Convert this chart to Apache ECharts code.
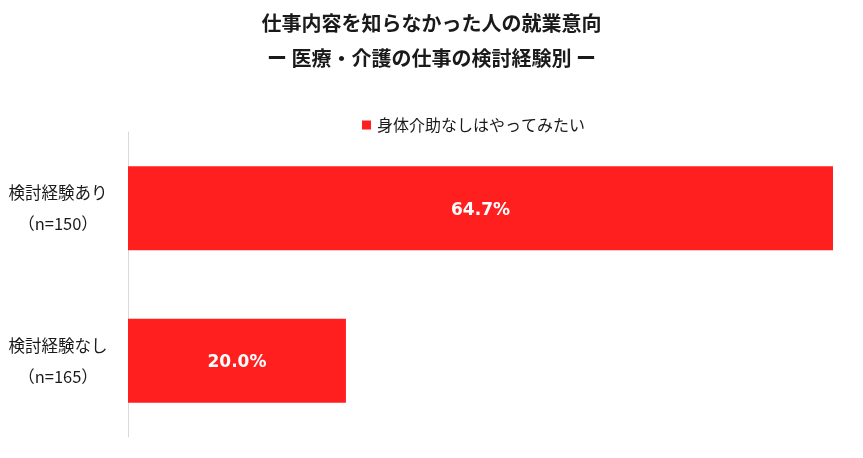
<!DOCTYPE html>
<html>
<head>
<meta charset="utf-8">
<script src="https://cdn.jsdelivr.net/npm/echarts@6/dist/echarts.min.js"></script>
<style>
html,body{margin:0;padding:0;background:#fff;}
#chart{width:863px;height:458px;}
</style>
</head>
<body>
<div id="chart"></div>
<script>
var titleLines = ['仕事内容を知らなかった人の就業意向', 'ー 医療・介護の仕事の検討経験別 ー'];
var seriesName = '身体介助なしはやってみたい';
var categories = ['検討経験あり\n（n=150）', '検討経験なし\n（n=165）'];
var values = [64.7, 20.0];

var FONT = '"Noto Sans CJK JP", "Noto Sans", sans-serif';
var chart = echarts.init(document.getElementById('chart'));
chart.setOption({
  backgroundColor: '#ffffff',
  animation: false,
  textStyle: { fontFamily: FONT },
  title: {
    text: titleLines.join('\n'),
    left: 'center',
    top: 6,
    padding: 0,
    textStyle: { fontFamily: FONT, fontSize: 20, fontWeight: 'bold', color: '#1a1a1a', lineHeight: 35 }
  },
  legend: {
    data: [seriesName],
    left: 362,
    top: 117,
    padding: 0,
    itemWidth: 9,
    itemHeight: 9,
    icon: 'rect',
    textStyle: { fontFamily: FONT, fontSize: 16, color: '#1a1a1a', padding: [0, 0, 0, 1] }
  },
  grid: { left: 128, right: 30, top: 132, bottom: 21, containLabel: false },
  xAxis: {
    type: 'value',
    min: 0,
    max: Math.max.apply(null, values),
    show: false
  },
  yAxis: {
    type: 'category',
    inverse: true,
    data: categories,
    axisLine: { show: true, lineStyle: { color: '#d9d9d9', width: 1 } },
    axisTick: { show: false },
    axisLabel: {
      align: 'center',
      margin: 70,
      fontFamily: FONT,
      fontSize: 16.5,
      lineHeight: 31,
      color: '#1a1a1a'
    }
  },
  series: [{
    name: seriesName,
    type: 'bar',
    data: values,
    barWidth: 84,
    itemStyle: { color: '#FF1F1F' },
    label: {
      show: true,
      position: 'inside',
      offset: [0, 2],
      formatter: function (p) { return p.value.toFixed(1) + '%'; },
      color: '#ffffff',
      fontFamily: '"DejaVu Sans", sans-serif',
      fontSize: 17,
      fontWeight: 'bold'
    }
  }]
});
</script>
</body>
</html>
